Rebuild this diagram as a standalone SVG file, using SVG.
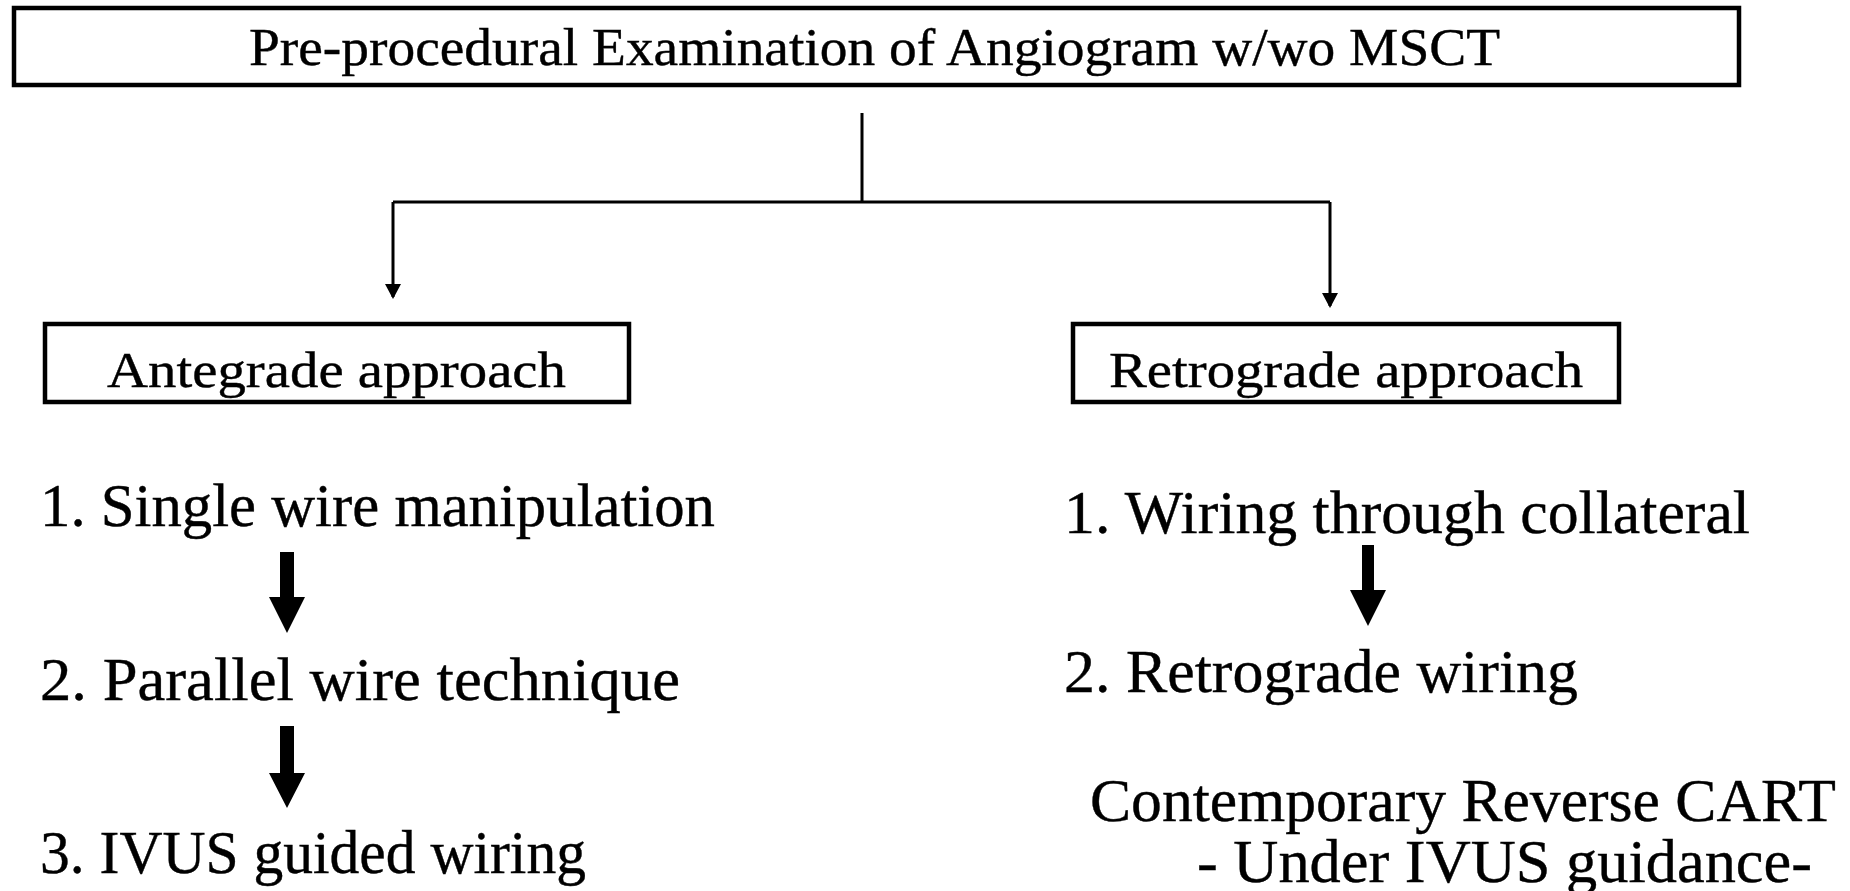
<svg xmlns="http://www.w3.org/2000/svg" width="1850" height="891" viewBox="0 0 1850 891">
<style>
.box{fill:#fff;stroke:#000;stroke-width:4.5}
.t{font-family:"Liberation Serif","DejaVu Serif",serif;fill:#000;stroke:#000;stroke-width:0.4}
.hd{font-size:52px}
.sub{font-size:50px}
.li{font-size:61px}
.wire{fill:none;stroke:#000;stroke-width:3}
.blk{fill:#000}
</style>
<defs>
<marker id="ah" viewBox="0 0 15 16" refX="13" refY="8" markerWidth="15" markerHeight="16" markerUnits="userSpaceOnUse" orient="auto">
<path d="M0,0 L15,8 L0,16 z" fill="#000"/>
</marker>
</defs>
<rect width="1850" height="891" fill="#fff"/>
<g id="connectors">
<path class="wire" d="M862,113 V202 M393,202 H1330"/>
<line class="wire" x1="393" y1="202" x2="393" y2="297" marker-end="url(#ah)"/>
<line class="wire" x1="1330" y1="202" x2="1330" y2="306" marker-end="url(#ah)"/>
<path class="blk" d="M280,552 H294 V597 H305 L287,633 L269,597 H280 Z"/>
<path class="blk" d="M280,726 H294 V773 H305 L287,808 L269,773 H280 Z"/>
<path class="blk" d="M1362,545 H1374 V590 H1386 L1368,626 L1350,590 H1362 Z"/>
</g>
<g id="top">
<rect class="box" x="14" y="8" width="1725" height="77" stroke-width="5.5"/>
<text class="t hd" x="249" y="65" textLength="1251" lengthAdjust="spacingAndGlyphs">Pre-procedural Examination of Angiogram w/wo MSCT</text>
</g>
<g id="antegrade">
<rect class="box" x="45" y="324" width="584" height="78"/>
<text class="t sub" x="107" y="387" textLength="459" lengthAdjust="spacingAndGlyphs">Antegrade approach</text>
</g>
<g id="retrograde">
<rect class="box" x="1073" y="324" width="546" height="78"/>
<text class="t sub" x="1109" y="387" textLength="474" lengthAdjust="spacingAndGlyphs">Retrograde approach</text>
</g>
<g id="ante1"><text class="t li" x="40" y="526" textLength="675" lengthAdjust="spacingAndGlyphs">1. Single wire manipulation</text></g>
<g id="ante2"><text class="t li" x="40" y="700" textLength="640" lengthAdjust="spacingAndGlyphs">2. Parallel wire technique</text></g>
<g id="ante3"><text class="t li" x="40" y="873" textLength="546" lengthAdjust="spacingAndGlyphs">3. IVUS guided wiring</text></g>
<g id="retro1"><text class="t li" x="1064" y="533" textLength="686" lengthAdjust="spacingAndGlyphs">1. Wiring through collateral</text></g>
<g id="retro2"><text class="t li" x="1064" y="692" textLength="514" lengthAdjust="spacingAndGlyphs">2. Retrograde wiring</text></g>
<g id="cart">
<text class="t li" x="1090" y="821" textLength="746" lengthAdjust="spacingAndGlyphs">Contemporary Reverse CART</text>
<text class="t li" x="1197" y="882" textLength="615" lengthAdjust="spacingAndGlyphs">- Under IVUS guidance-</text>
</g>
</svg>
